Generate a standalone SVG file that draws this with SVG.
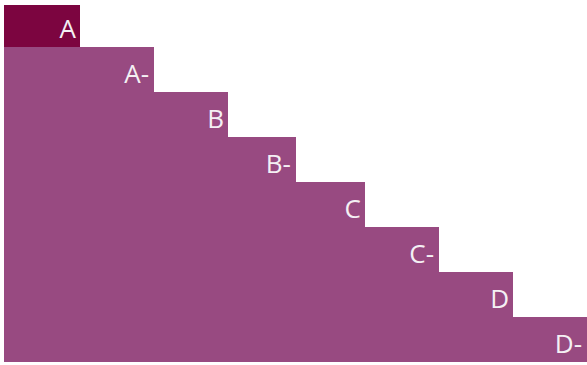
<svg xmlns="http://www.w3.org/2000/svg" width="587" height="365" viewBox="0 0 587 365">
  <style>
    .bar { fill: #984A81; }
    .top { fill: #7C0540; }
    .lbl { font-family: "Open Sans", "Liberation Sans", sans-serif; font-size: 26px; fill: #F4F0F4; text-anchor: end; }
  </style>
  <rect width="587" height="365" fill="#FFFFFF"/>
  <g id="row-a">
    <rect class="top" x="4" y="5" width="76" height="42"/>
    <text class="lbl" x="76" y="38">A</text>
  </g>
  <g id="row-a-minus">
    <rect class="bar" x="4" y="47" width="150" height="46"/>
    <text class="lbl" x="149" y="83">A-</text>
  </g>
  <g id="row-b">
    <rect class="bar" x="4" y="92" width="224" height="46"/>
    <text class="lbl" x="224" y="128">B</text>
  </g>
  <g id="row-b-minus">
    <rect class="bar" x="4" y="137" width="292" height="46"/>
    <text class="lbl" x="291" y="173">B-</text>
  </g>
  <g id="row-c">
    <rect class="bar" x="4" y="182" width="361" height="46"/>
    <text class="lbl" x="361" y="218">C</text>
  </g>
  <g id="row-c-minus">
    <rect class="bar" x="4" y="227" width="435" height="46"/>
    <text class="lbl" x="434" y="263">C-</text>
  </g>
  <g id="row-d">
    <rect class="bar" x="4" y="272" width="509" height="46"/>
    <text class="lbl" x="509" y="308">D</text>
  </g>
  <g id="row-d-minus">
    <rect class="bar" x="4" y="317" width="583" height="45"/>
    <text class="lbl" x="582" y="353">D-</text>
  </g>
  <g id="connectors"></g>
</svg>
